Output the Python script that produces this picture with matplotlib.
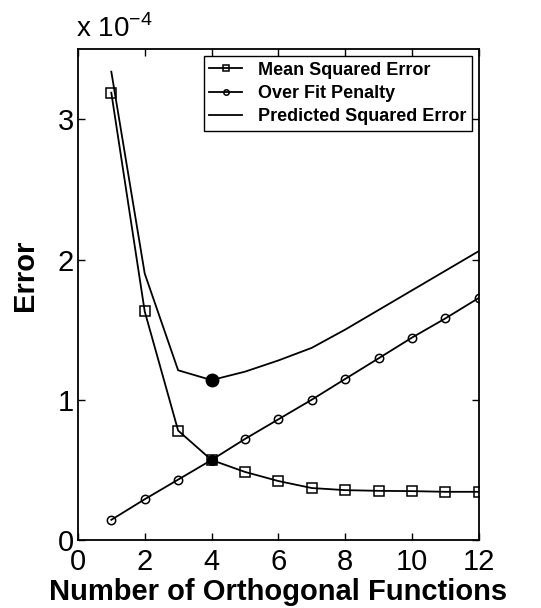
import matplotlib
matplotlib.use('Agg')
import matplotlib.pyplot as plt

plt.rcParams['font.family'] = ['Liberation Sans', 'DejaVu Sans']
plt.rcParams['mathtext.fontset'] = 'custom'
plt.rcParams['mathtext.rm'] = 'Liberation Sans'

# values in units of 1e-4
n_funcs = [1, 2, 3, 4, 5, 6, 7, 8, 9, 10, 11, 12]
mse = [3.19, 1.63, 0.78, 0.57, 0.485, 0.42, 0.37, 0.355, 0.35, 0.348, 0.343, 0.343]
penalty = [0.143, 0.29, 0.43, 0.57, 0.72, 0.86, 1.0, 1.148, 1.295, 1.443, 1.58, 1.726]
pse = [3.34, 1.90, 1.21, 1.14, 1.20, 1.28, 1.37, 1.50, 1.64, 1.78, 1.92, 2.06]
best_n = 4

fig = plt.figure(figsize=(5.41, 6.08), dpi=100)
ax = fig.add_axes([0.144, 0.112, 0.741, 0.807])

ax.plot(n_funcs, mse, color='black', lw=1.3, marker='s', ms=6.5,
        mfc='none', mec='black', mew=1.1, label='Mean Squared Error')
ax.plot(n_funcs, penalty, color='black', lw=1.3, marker='o', ms=6,
        mfc='none', mec='black', mew=1.1, label='Over Fit Penalty')
ax.plot(n_funcs, pse, color='black', lw=1.3, label='Predicted Squared Error')

# minimum of predicted error and the crossing point
i = n_funcs.index(best_n)
ax.plot(best_n, pse[i], 'o', color='black', ms=9)
ax.plot(best_n, mse[i], 'o', color='black', ms=7)

ax.set_xlim(0, 12)
ax.set_ylim(0, 3.5)
ax.set_xticks(range(0, 13, 2))
ax.set_yticks([0, 1, 2, 3])
ax.tick_params(direction='in', top=True, right=True, length=5, width=1,
               labelsize=21)
ax.tick_params(axis='x', pad=6)
ax.tick_params(axis='y', pad=3)
for s in ax.spines.values():
    s.set_linewidth(1.3)

ax.set_xlabel('Number of Orthogonal Functions', fontsize=21, fontweight='bold',
              labelpad=1)
ax.set_ylabel('Error', fontsize=21, fontweight='bold')
ax.yaxis.set_label_coords(-0.097, 0.54)
ax.text(-0.005, 1.012, r'x 10$^{-4}$', transform=ax.transAxes, fontsize=20,
        ha='left', va='bottom')

leg = ax.legend(loc='upper right', prop={'weight': 'bold', 'size': 13},
                fancybox=False, edgecolor='black', framealpha=1,
                handlelength=1.8, handletextpad=0.9, borderaxespad=0.38,
                labelspacing=0.35, borderpad=0.3, markerscale=0.65)
leg.get_frame().set_linewidth(1.0)

fig.savefig('out.png', dpi=100)
